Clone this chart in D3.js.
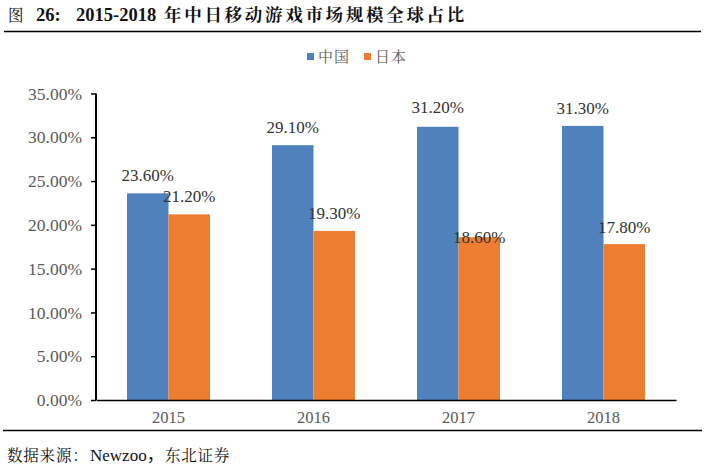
<!DOCTYPE html>
<html><head><meta charset="utf-8">
<script src="https://cdn.jsdelivr.net/npm/d3@7"></script>
<style>
html,body{margin:0;padding:0;background:#fff;}
svg{display:block;}
</style></head>
<body>
<svg id="c" width="706" height="468"></svg>
<script>
const categories = ["2015", "2016", "2017", "2018"];
const seriesNames = ["中国", "日本"];
const chinaValues = [23.6, 29.1, 31.2, 31.3];
const japanValues = [21.2, 19.3, 18.6, 17.8];
const yTicks = [0, 5, 10, 15, 20, 25, 30, 35];
const colors = ["#4F81BD", "#ED7D31"];
const titleParts = ["图", "26:", "2015-2018", "年中日移动游戏市场规模全球占比"];
const sourceParts = ["数据来源：", "Newzoo，", "东北证券"];
// label vertical lift above bar top (px) per series/category
const labelLift = [[18, 18, 20, 18], [18, 18, 0, 17]];

(function () {
const serif = "'Liberation Serif','Times New Roman','Noto Sans CJK SC',serif";
const cjk = "'Noto Serif CJK SC','Noto Sans CJK SC',serif";
const svg = d3.select("#c");

const t = svg.append("text").attr("y", 21).attr("fill", "#111");
const tx = [8, 36, 76, 164];
titleParts.forEach((p, i) => {
  const sp = t.append("tspan").attr("x", tx[i]).text(p);
  if (i === 0) sp.attr("font-family", cjk).attr("font-size", 15.5);
  else if (i === 3) sp.attr("font-family", cjk).attr("font-size", 17.5).attr("font-weight", "bold").attr("letter-spacing", 2.7);
  else sp.attr("font-family", serif).attr("font-size", 18.5).attr("font-weight", "bold");
});
svg.append("line").attr("x1", 4).attr("x2", 701).attr("y1", 31.5).attr("y2", 31.5)
  .attr("stroke", "#000").attr("stroke-width", 1.5);
svg.append("line").attr("x1", 3).attr("x2", 702).attr("y1", 430.5).attr("y2", 430.5)
  .attr("stroke", "#000").attr("stroke-width", 1.5);
const s = svg.append("text").attr("y", 461).attr("fill", "#111");
const sx = [7, 90, 165];
sourceParts.forEach((p, i) => {
  const sp = s.append("tspan").attr("x", sx[i]).text(p);
  if (i === 1) sp.attr("font-family", serif).attr("font-size", 17);
  else sp.attr("font-family", cjk).attr("font-size", 15.5).attr("letter-spacing", 0.8);
});

const pl = 96, pr = 676, pt = 93.5, pb = 400;
const x = d3.scaleBand().domain(categories).range([pl, pr]).paddingInner(0).paddingOuter(0);
const y = d3.scaleLinear().domain([0, 35]).range([pb, pt]);
const innerPad = 31;
const xs = d3.scaleBand().domain(seriesNames).range([0, x.bandwidth() - 2 * innerPad]).padding(0);

const data = [chinaValues, japanValues];
seriesNames.forEach((sn, si) => {
  const g = svg.append("g");
  g.selectAll("rect").data(data[si]).join("rect")
    .attr("x", (d, i) => x(categories[i]) + innerPad + xs(sn))
    .attr("width", xs.bandwidth())
    .attr("y", d => y(d))
    .attr("height", d => y(0) - y(d))
    .attr("fill", colors[si]);
  g.selectAll("text").data(data[si]).join("text")
    .attr("x", (d, i) => x(categories[i]) + innerPad + xs(sn) + xs.bandwidth() / 2)
    .attr("y", (d, i) => y(d) - labelLift[si][i] + 6)
    .attr("text-anchor", "middle")
    .attr("font-family", serif).attr("font-size", 17).attr("fill", "#333")
    .text(d => d.toFixed(2) + "%");
});

const yAxis = svg.append("g").attr("transform", `translate(${pl},0)`)
  .call(d3.axisLeft(y).tickValues(yTicks).tickSize(5).tickPadding(9).tickFormat(d => d.toFixed(2) + "%"));
yAxis.select(".domain").attr("stroke", "#000").attr("stroke-width", 2).attr("d", `M0,${pt}V${pb}`);
yAxis.selectAll(".tick line").attr("stroke", "#000").attr("stroke-width", 1.5);
yAxis.selectAll(".tick text").attr("font-family", serif).attr("font-size", 17.5).attr("fill", "#595959");

const xAxis = svg.append("g").attr("transform", `translate(0,${pb})`)
  .call(d3.axisBottom(x).tickSize(0).tickPadding(11));
xAxis.select(".domain").attr("stroke", "#000").attr("stroke-width", 1.5);
xAxis.selectAll(".tick text").attr("font-family", serif).attr("font-size", 16.5).attr("fill", "#595959");

const legX = [307, 364];
seriesNames.forEach((sn, i) => {
  svg.append("rect").attr("x", legX[i]).attr("y", 53).attr("width", 7).attr("height", 7).attr("fill", colors[i]);
  svg.append("text").attr("x", legX[i] + 11).attr("y", 62)
    .attr("font-family", cjk).attr("font-size", 15).attr("letter-spacing", 1).attr("fill", "#595959").text(sn);
});
})();
</script>
</body></html>
